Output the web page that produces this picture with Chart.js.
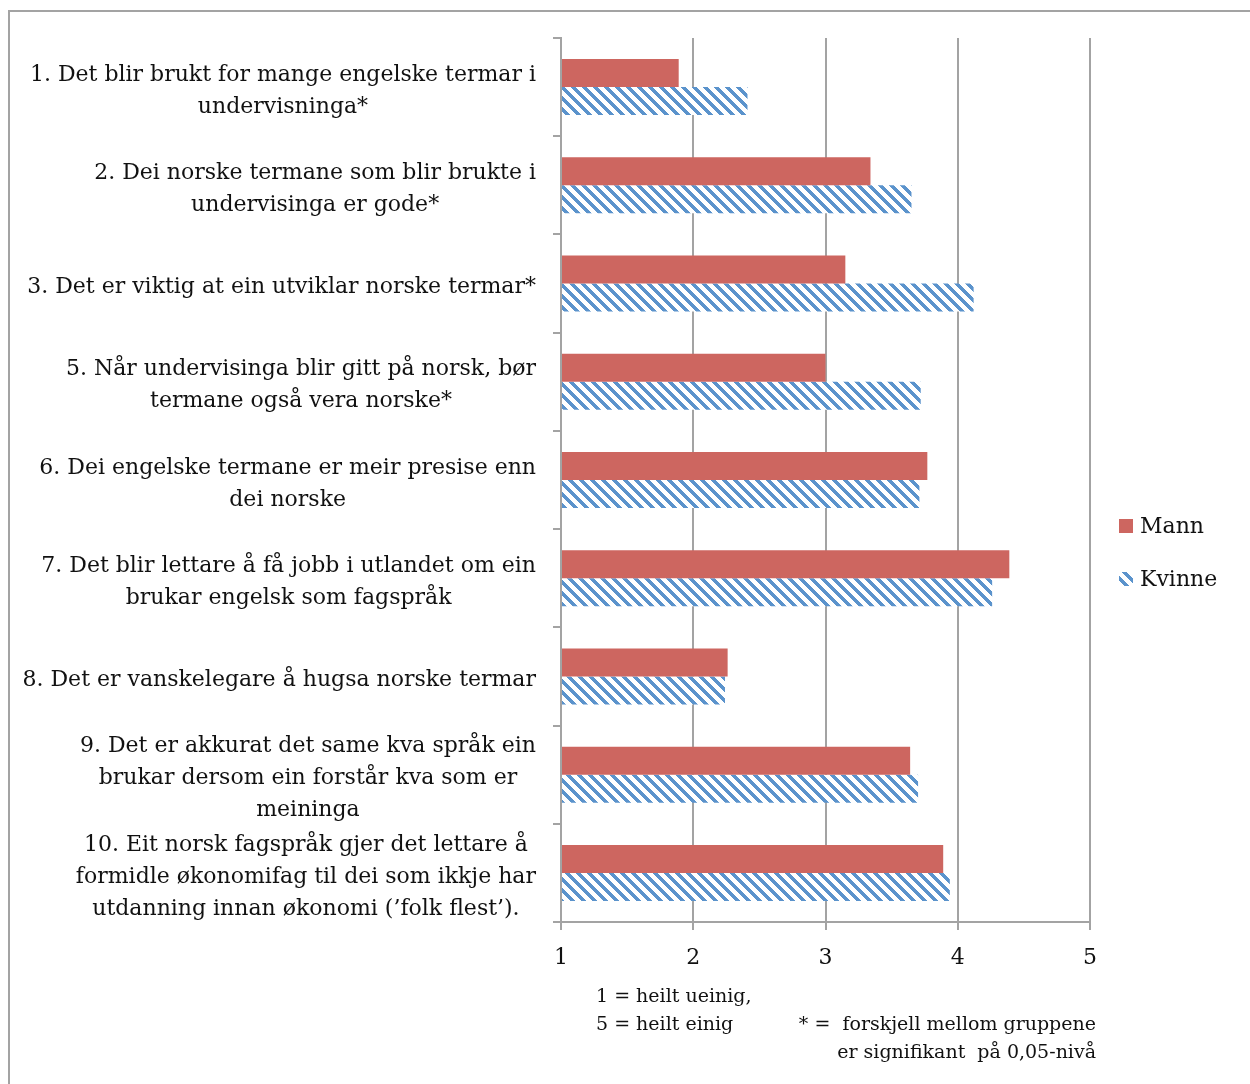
<!DOCTYPE html>
<html>
<head>
<meta charset="utf-8">
<script src="https://cdn.jsdelivr.net/npm/chart.js@4.4.1/dist/chart.umd.min.js"></script>
<style>
  html, body { margin: 0; padding: 0; background: #fff; }
  #wrap { width: 1250px; height: 1084px; }
</style>
</head>
<body>
<div id="wrap"><canvas id="chart" width="1250" height="1084"></canvas></div>
<script>
// data
const categories = [
  ["1. Det blir brukt for mange engelske termar i", "undervisninga*"],
  ["2. Dei norske termane som blir brukte i", "undervisinga er gode*"],
  ["3. Det er viktig at ein utviklar norske termar*"],
  ["5. Når undervisinga blir gitt på norsk, bør", "termane også vera norske*"],
  ["6. Dei engelske termane er meir presise enn", "dei norske"],
  ["7. Det blir lettare å få jobb i utlandet om ein", "brukar engelsk som fagspråk"],
  ["8. Det er vanskelegare å hugsa norske termar"],
  ["9. Det er akkurat det same kva språk ein", "brukar dersom ein forstår kva som er", "meininga"],
  ["10. Eit norsk fagspråk gjer det lettare å", "formidle økonomifag til dei som ikkje har", "utdanning innan økonomi (’folk flest’)."]
];
const seriesNames = ["Mann", "Kvinne"];
const mannValues = [1.89, 3.34, 3.15, 3.00, 3.77, 4.39, 2.26, 3.64, 3.89];
const kvinneValues = [2.41, 3.65, 4.12, 3.72, 3.71, 4.26, 2.24, 3.70, 3.94];
const xMin = 1, xMax = 5, xStep = 1;
const noteLeft = ["1 = heilt ueinig,", "5 = heilt einig"];
const noteRight = ["* =  forskjell mellom gruppene", "er signifikant  på 0,05-nivå"];

const FONT = "'DejaVu Serif', 'Liberation Serif', serif";
const GRAY = "#a3a3a3";
const RED = "#cd6660";

function makeHatch() {
  const s = 11;
  const c = document.createElement("canvas");
  c.width = s; c.height = s;
  const g = c.getContext("2d");
  const img = g.createImageData(s, s);
  for (let y = 0; y < s; y++) {
    for (let x = 0; x < s; x++) {
      const d = ((x - y) % s + s) % s;
      const i = (y * s + x) * 4;
      if (d < 5) {
        img.data[i] = 0x5b; img.data[i + 1] = 0x93; img.data[i + 2] = 0xcc;
      } else {
        img.data[i] = 255; img.data[i + 1] = 255; img.data[i + 2] = 255;
      }
      img.data[i + 3] = 255;
    }
  }
  g.putImageData(img, 0, 0);
  return c;
}
const hatchCanvas = makeHatch();
const ctx = document.getElementById("chart").getContext("2d");
const hatch = ctx.createPattern(hatchCanvas, "repeat");

// frame, category labels, legend and notes
const decor = {
  id: "decor",
  beforeDraw(chart) {
    const c = chart.ctx;
    c.save();
    c.fillStyle = "#fff";
    c.fillRect(0, 0, chart.width, chart.height);
    c.strokeStyle = GRAY;
    c.lineWidth = 2;
    c.strokeRect(9, 11, chart.width + 20, chart.height + 20);
    c.restore();
  },
  afterDraw(chart) {
    const c = chart.ctx;
    const yScale = chart.scales.y;
    c.save();
    c.fillStyle = "#111";
    c.textBaseline = "middle";
    c.textAlign = "center";
    c.font = "22px " + FONT;
    const right = chart.chartArea.left - 25;
    const lh = 32;
    categories.forEach((lines, i) => {
      const yc = yScale.getPixelForTick(i) + 4;
      const widest = Math.max(...lines.map(l => c.measureText(l).width));
      const cx = right - widest / 2;
      lines.forEach((l, k) => {
        c.fillText(l, cx, yc + (k - (lines.length - 1) / 2) * lh);
      });
    });

    // legend
    const lx = chart.chartArea.right + 29;
    const ly = [527, 580];
    [RED, hatch].forEach((fill, k) => {
      c.fillStyle = fill;
      c.fillRect(lx, ly[k] - 8, 14, 14);
      c.fillStyle = "#111";
      c.textAlign = "left";
      c.fillText(seriesNames[k], lx + 21, ly[k]);
    });

    // notes
    c.font = "19px " + FONT;
    c.textAlign = "left";
    noteLeft.forEach((t, k) => c.fillText(t, 596, 997 + k * 28));
    c.textAlign = "right";
    noteRight.forEach((t, k) => c.fillText(t, 1096, 1025 + k * 28));
    c.restore();
  }
};

new Chart(ctx, {
  type: "bar",
  data: {
    labels: categories,
    datasets: [
      { label: seriesNames[0], data: mannValues, backgroundColor: RED, base: xMin, borderWidth: 0 },
      { label: seriesNames[1], data: kvinneValues, backgroundColor: hatch, base: xMin, borderWidth: 0 }
    ]
  },
  options: {
    indexAxis: "y",
    responsive: false,
    animation: false,
    devicePixelRatio: 1,
    layout: { padding: { top: 38, right: 160, bottom: 0, left: 0 } },
    datasets: { bar: { categoryPercentage: 0.57, barPercentage: 1 } },
    plugins: { legend: { display: false }, tooltip: { enabled: false } },
    scales: {
      x: {
        min: xMin, max: xMax,
        ticks: { stepSize: xStep, color: "#111", font: { family: FONT, size: 22 }, padding: 15 },
        grid: { color: GRAY, lineWidth: 2, tickLength: 8 },
        border: { display: true, color: GRAY, width: 2 },
        afterFit(scale) { scale.height = 162; }
      },
      y: {
        z: 1,
        ticks: { display: false },
        grid: { drawOnChartArea: false, color: GRAY, lineWidth: 2, tickLength: 8, offset: true },
        border: { display: true, color: GRAY, width: 2 },
        afterFit(scale) { scale.width = 561; }
      }
    }
  },
  plugins: [decor]
});
</script>
</body>
</html>
